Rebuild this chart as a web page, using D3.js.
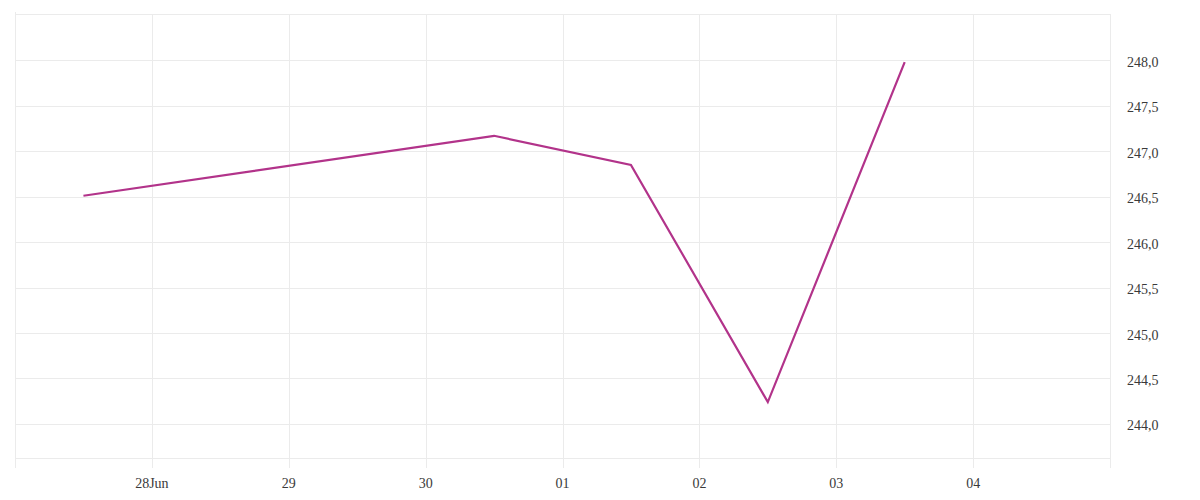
<!DOCTYPE html>
<html><head><meta charset="utf-8">
<script src="https://cdn.jsdelivr.net/npm/d3@7"></script>
<style>body{margin:0;background:#fff}svg{display:block}text{font-family:"Liberation Serif","DejaVu Serif",serif;fill:#3a3a3a}</style>
</head><body><svg id="c" width="1200" height="500"></svg>
<script>
const dates = ["2023-06-27T12:00","2023-06-30T12:00","2023-07-01T12:00","2023-07-02T12:00","2023-07-03T12:00"];
const values = [246.51, 247.17, 246.85, 244.24, 247.98];
const xTickDates = ["2023-06-28","2023-06-29","2023-06-30","2023-07-01","2023-07-02","2023-07-03","2023-07-04"];
const xTickLabels = ["28Jun","29","30","01","02","03","04"];
const yTicks = [244.0,244.5,245.0,245.5,246.0,246.5,247.0,247.5,248.0];
const yTickLabels = ["244,0","244,5","245,0","245,5","246,0","246,5","247,0","247,5","248,0"];

const parse = d3.timeParse("%Y-%m-%dT%H:%M");
const parseDay = d3.timeParse("%Y-%m-%d");
const L=15, R=1110, T=14, B=458;
const svg = d3.select("#c");
const x = d3.scaleTime().domain([parseDay("2023-06-27"), parseDay("2023-07-05")]).range([L,R]);
const y = d3.scaleLinear().domain([243.625, 248.51]).range([B,T]);
const grid = "#ebebeb";
const g = svg.append("g");
// horizontal grid
g.selectAll("line.h").data(yTicks).join("line")
  .attr("x1",L).attr("x2",R).attr("y1",d=>Math.round(y(d))+0.5).attr("y2",d=>Math.round(y(d))+0.5)
  .attr("stroke",grid);
g.append("line").attr("x1",L).attr("x2",R).attr("y1",T+0.5).attr("y2",T+0.5).attr("stroke",grid);
g.append("line").attr("x1",L).attr("x2",R).attr("y1",B+0.5).attr("y2",B+0.5).attr("stroke",grid);
// vertical grid
const xt = xTickDates.map(parseDay);
g.selectAll("line.v").data(xt).join("line")
  .attr("x1",d=>Math.round(x(d))+0.5).attr("x2",d=>Math.round(x(d))+0.5).attr("y1",T).attr("y2",468)
  .attr("stroke",grid);
g.append("line").attr("x1",L+0.5).attr("x2",L+0.5).attr("y1",12).attr("y2",468).attr("stroke",grid);
g.append("line").attr("x1",R+0.5).attr("x2",R+0.5).attr("y1",T).attr("y2",468).attr("stroke",grid);
// labels
svg.selectAll("text.x").data(xt).join("text")
  .attr("x",d=>x(d)).attr("y",488).attr("text-anchor","middle").attr("font-size",14)
  .text((d,i)=>xTickLabels[i]);
svg.selectAll("text.y").data(yTicks).join("text")
  .attr("x",1127).attr("y",d=>y(d)+6.5).attr("font-size",14)
  .text((d,i)=>yTickLabels[i]);
// line
const pts = dates.map((d,i)=>[parse(d), values[i]]);
svg.append("path").datum(pts)
  .attr("d", d3.line().x(d=>x(d[0])).y(d=>y(d[1])))
  .attr("fill","none").attr("stroke","#b2338a").attr("stroke-width",2.2);
</script></body></html>
